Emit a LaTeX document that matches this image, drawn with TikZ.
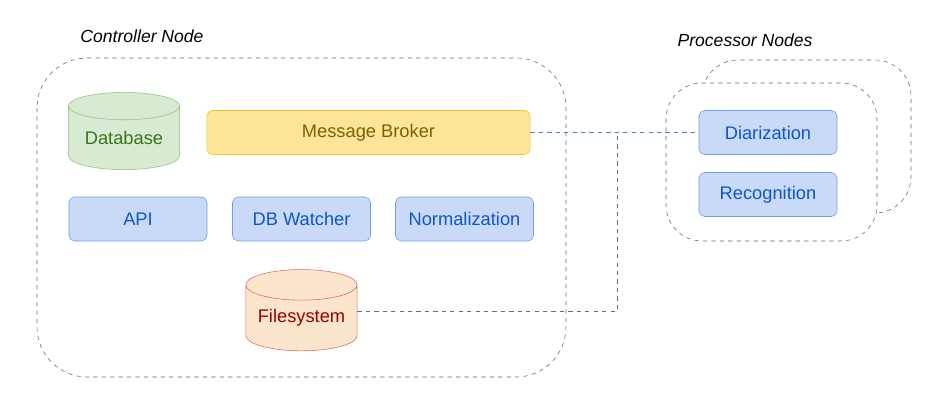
\documentclass[tikz,border=0pt]{standalone}
\usepackage{fontspec}
\setmainfont{Liberation Sans}
\usetikzlibrary{shapes.geometric}
\definecolor{bluefill}{HTML}{C9DAF8}
\definecolor{bluedraw}{HTML}{6D9EEB}
\definecolor{bluetext}{HTML}{1155CC}
\definecolor{greenfill}{HTML}{D9EAD3}
\definecolor{greendraw}{HTML}{93C47D}
\definecolor{greentext}{HTML}{38761D}
\definecolor{yellowfill}{HTML}{FFE599}
\definecolor{yellowdraw}{HTML}{F1C232}
\definecolor{yellowtext}{HTML}{7F6000}
\definecolor{redfill}{HTML}{FCE5CD}
\definecolor{reddraw}{HTML}{E06666}
\definecolor{redtext}{HTML}{990000}
\definecolor{linkblue}{HTML}{3D85C6}
\definecolor{groupgray}{HTML}{666666}

\begin{document}
\begin{tikzpicture}[x=0.025cm,y=-0.025cm,
  every node/.style={font=\fontsize{13}{15}\selectfont},
  service/.style={draw=bluedraw,fill=bluefill,text=bluetext,rounded corners=4pt,
    minimum width=3.45cm,minimum height=1.1cm,inner sep=0pt},
  store/.style={cylinder,shape border rotate=90,aspect=0.35,minimum width=2.78cm,inner sep=0pt},
  group/.style={draw=groupgray,dashed,rounded corners=1.25cm},
  title/.style={font=\fontsize{12.5}{15}\selectfont\itshape}]
\useasboundingbox (0,0) rectangle (936,405);
% controller
\draw[group] (37,58) rectangle (566,377);
\node[title] (ctitle) at (142,36) {Controller Node};
\node[store,draw=greendraw,fill=greenfill,text=greentext,minimum height=1.93cm] (db) at (124,138) {\raisebox{-6pt}{Database}};
\node[service,draw=yellowdraw,fill=yellowfill,text=yellowtext,minimum width=8.08cm] (broker) at (368.5,132.5) {Message Broker};
\node[service] (api) at (138,219) {API};
\node[service] (watcher) at (301.5,219) {DB Watcher};
\node[service] (norm) at (464.5,219) {Normalization};
\node[store,draw=reddraw,fill=redfill,text=redtext,minimum height=2.03cm] (fs) at (301.5,318) {\raisebox{-6pt}{Filesystem}};
% processors
\draw[group,rounded corners=0.9cm] (702,60) rectangle (911,213);
\draw[group,fill=white,rounded corners=0.9cm] (666,83) rectangle (877,241);
\node[title] (ptitle) at (745,40) {Processor Nodes};
\node[service] (diar) at (768,132.5) {Diarization};
\node[service] (recog) at (768,194.5) {Recognition};
% links
\coordinate (join) at (617,132.5);
\draw[linkblue,dashed] (broker.east) -- (diar.west);
\draw[dashed,draw=groupgray!70!linkblue] ([yshift=0.175cm]fs.east) -| (join);
\end{tikzpicture}
\end{document}
